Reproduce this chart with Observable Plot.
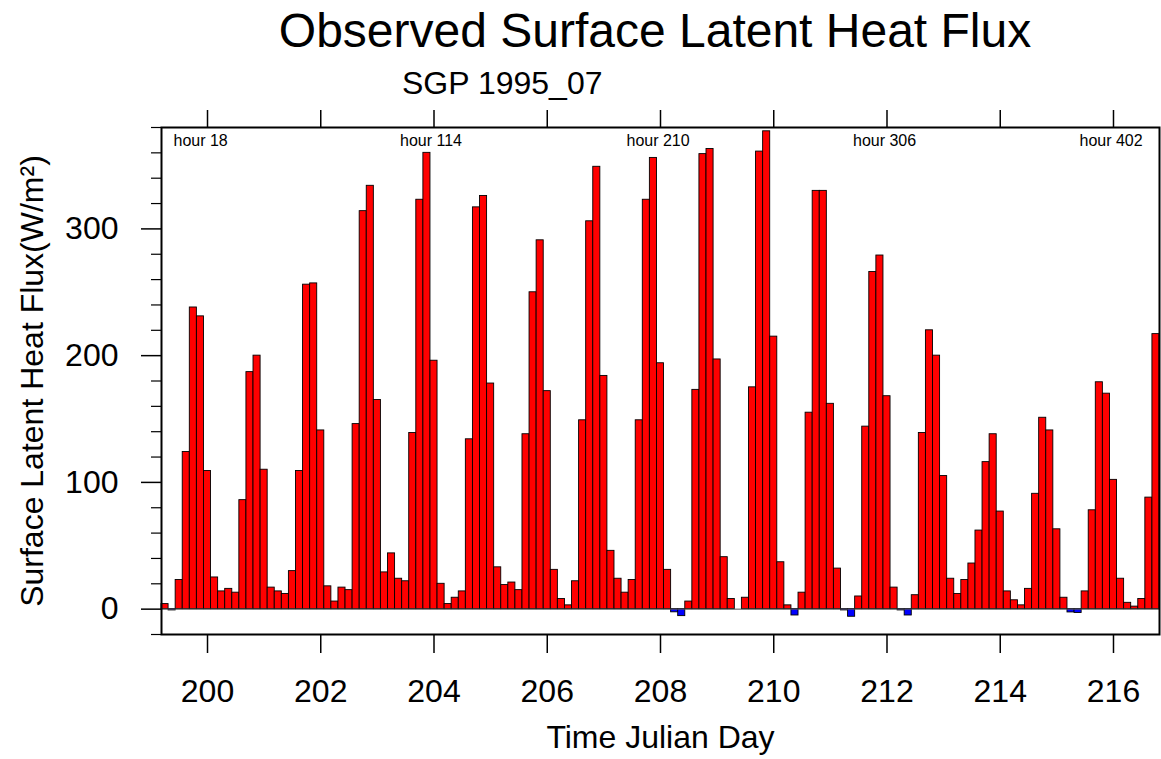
<!DOCTYPE html>
<html>
<head>
<meta charset="utf-8">
<script src="https://cdn.jsdelivr.net/npm/d3@7"></script>
<script src="https://cdn.jsdelivr.net/npm/@observablehq/plot@0.6"></script>
<style>
  html, body { margin: 0; padding: 0; background: #fff; }
  #page { position: relative; width: 1161px; height: 759px; font-family: "Liberation Sans", Arial, Helvetica, sans-serif; color: #000; }
  #title { position: absolute; left: 0; width: 1310px; text-align: center; top: 7px; font-size: 48px; line-height: 48px; white-space: nowrap; }
  #subtitle { position: absolute; left: 402px; top: 67px; font-size: 32px; line-height: 32px; white-space: nowrap; }
  #chart { position: absolute; left: 0; top: 100px; }
</style>
</head>
<body>
<div id="page">
  <div id="title">Observed Surface Latent Heat Flux</div>
  <div id="subtitle">SGP 1995_07</div>
  <div id="chart"></div>
</div>
<script>
// ---- data ----
const startDay = 199.25;      // Julian day of first 3-hourly sample (hour 0)
const stepHours = 3;          // sampling interval
const flux = [
  4, -1, 23, 124, 238, 231, 109, 25,
  14, 16, 13, 86, 187, 200, 110, 17,
  14, 12, 30, 109, 256, 257, 141, 18,
  6, 17, 15, 146, 314, 334, 165, 29,
  44, 24, 22, 139, 323, 360, 196, 20,
  4, 9, 14, 134, 317, 326, 178, 33,
  19, 21, 15, 138, 250, 291, 172, 31,
  8, 3, 22, 149, 306, 349, 184, 46,
  24, 13, 23, 149, 323, 356, 194, 31,
  -2.5, -5.5, 6, 173, 359, 363, 197, 41,
  8, 0, 9, 175, 361, 377, 215, 37,
  3, -5, 13, 155, 330, 330, 162, 32,
  -1, -6, 10, 144, 266, 279, 168, 17,
  -1, -5, 11, 139, 220, 200, 105, 24,
  12, 23, 36, 62, 116, 138, 77, 14,
  7, 3, 16, 91, 151, 141, 63, 9,
  -2.6, -3, 14, 78, 179, 170, 102, 24,
  5, 2, 8, 88, 217
];
const dayTicks = [200, 202, 204, 206, 208, 210, 212, 214, 216];
const yMajorTicks = [0, 100, 200, 300];
const yMinorTicks = [-20, 20, 40, 60, 80, 120, 140, 160, 180, 220, 240, 260, 280, 320, 340, 360, 380];
const hourLabels = ["hour 18", "hour 114", "hour 210", "hour 306", "hour 402"];
const hourLabelDays = [200, 204, 208, 212, 216];
const xDomain = [199.1875, 216.8125];
const yDomain = [-20, 380];

// ---- build table ----
const stepDays = stepHours / 24;
const rows = flux.map((v, i) => {
  const t = startDay + i * stepDays;
  return {x1: t - stepDays / 2, x2: t + stepDays / 2, v};
});
const hourRows = hourLabels.map((label, i) => ({label, day: hourLabelDays[i]}));

const chart = Plot.plot({
  width: 1161,
  height: 659,
  marginLeft: 161,
  marginRight: 2,
  marginTop: 27,
  marginBottom: 125,
  style: {fontFamily: '"Liberation Sans", Arial, Helvetica, sans-serif', color: "#000", background: "transparent", overflow: "visible"},
  x: {domain: xDomain},
  y: {domain: yDomain},
  marks: [
    Plot.rect(rows, {
      x1: "x1", x2: "x2", y1: 0, y2: "v",
      fill: d => d.v < 0 ? "#0000ff" : "#ff0000",
      stroke: "#000", strokeWidth: 0.9
    }),
    Plot.ruleY([0], {stroke: "#555", strokeWidth: 1}),
    Plot.frame({stroke: "#000", strokeWidth: 2}),
    Plot.axisX({anchor: "bottom", ticks: dayTicks, tickSize: 19, tickPadding: 26, fontSize: 32, tickFormat: d => String(d), label: null, strokeWidth: 1.5}),
    Plot.axisX({anchor: "top", ticks: dayTicks, tickSize: 18, tickFormat: () => "", label: null, strokeWidth: 1.5}),
    Plot.axisY({anchor: "left", ticks: yMajorTicks, tickSize: 20, tickPadding: 23, fontSize: 32, tickFormat: d => String(d), label: null, strokeWidth: 1.5}),
    Plot.axisY({anchor: "left", ticks: yMinorTicks, tickSize: 10, tickFormat: () => "", label: null, strokeWidth: 1.2}),
    Plot.text(hourRows, {x: "day", text: "label", frameAnchor: "top", textAnchor: "start", lineAnchor: "bottom", dx: -34, dy: 18, fontSize: 16, fill: "#000"}),
    Plot.text(["Time Julian Day"], {frameAnchor: "bottom", textAnchor: "middle", lineAnchor: "bottom", dy: 113, fontSize: 32, fill: "#000"}),
    Plot.text(["Surface Latent Heat Flux(W/m\u00b2)"], {frameAnchor: "left", rotate: -90, textAnchor: "middle", lineAnchor: "middle", dx: -129, fontSize: 32, fill: "#000"})
  ]
});
document.getElementById("chart").appendChild(chart);
</script>
</body>
</html>
